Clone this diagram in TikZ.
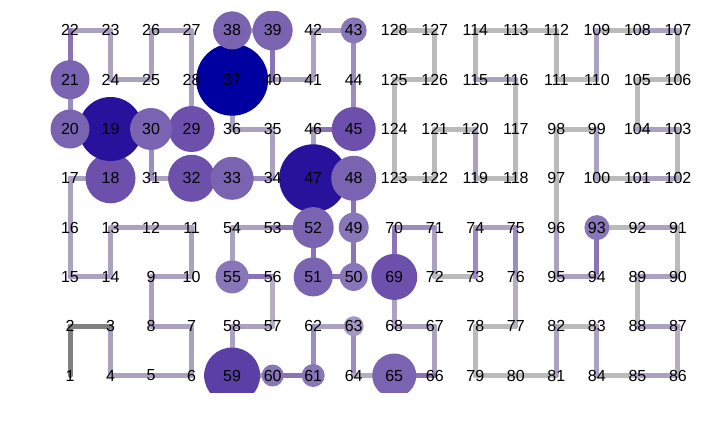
\documentclass[tikz,border=0pt]{standalone}
\usepackage{fontspec}
\setmainfont{Liberation Sans}
\usetikzlibrary{positioning}
\newcommand{\numfont}{\fontsize{16}{19}\selectfont}
\definecolor{nA}{RGB}{0,0,160}
\definecolor{nB}{RGB}{40,18,156}
\definecolor{nC}{RGB}{91,63,167}
\definecolor{nD}{RGB}{108,80,171}
\definecolor{nE}{RGB}{122,99,177}
\definecolor{nF}{RGB}{137,118,185}
\definecolor{nG}{RGB}{165,151,197}
\definecolor{eDk}{RGB}{128,128,128}
\definecolor{eLp}{RGB}{171,161,193}
\definecolor{eMd}{RGB}{156,140,192}
\definecolor{ePu}{RGB}{138,116,182}
\definecolor{eGy}{RGB}{187,187,187}
\definecolor{eLg}{RGB}{181,174,192}
\pgfdeclarelayer{links}
\pgfdeclarelayer{discs}
\pgfsetlayers{links,discs,main}
\tikzset{
  num/.style={font=\numfont, inner sep=0pt},
  disc/.style={circle, inner sep=0pt, draw=none},
  link/.style={line width=5pt, line cap=round},
}

\begin{document}
\begin{tikzpicture}[x=1pt, y=-1pt]
  \useasboundingbox (0,0) rectangle (720,432);
  % labels on the grid
  \foreach \r/\lst in {
      0/{1,4,5,6,59,60,61,64,65,66,79,80,81,84,85,86},
      1/{2,3,8,7,58,57,62,63,68,67,78,77,82,83,88,87},
      2/{15,14,9,10,55,56,51,50,69,72,73,76,95,94,89,90},
      3/{16,13,12,11,54,53,52,49,70,71,74,75,96,93,92,91},
      4/{17,18,31,32,33,34,47,48,123,122,119,118,97,100,101,102},
      5/{20,19,30,29,36,35,46,45,124,121,120,117,98,99,104,103},
      6/{21,24,25,28,37,40,41,44,125,126,115,116,111,110,105,106},
      7/{22,23,26,27,38,39,42,43,128,127,114,113,112,109,108,107}}
    \foreach \n [count=\c from 0] in \lst
      \node[num] (n\n) at ({70+40.53*\c}, {375.5-49.3*\r}) {\n};

  % links
  \begin{pgfonlayer}{links}
    \foreach \i [evaluate=\i as \j using int(\i+1)] in {3,...,71}
      \draw[link, eLp] (n\i.center) -- (n\j.center);
    \foreach \i [evaluate=\i as \j using int(\i+1)] in {72,...,127}
      \draw[link, eGy] (n\i.center) -- (n\j.center);
    \foreach \i/\col [evaluate=\i as \j using int(\i+1)] in {1/eDk, 2/eDk,
        20/eMd, 21/ePu, 30/eMd, 33/eMd, 39/ePu, 43/eMd, 44/eMd, 45/ePu,
        48/ePu, 49/ePu, 50/ePu, 51/ePu, 52/ePu, 55/ePu, 56/eLg, 60/ePu,
        61/eMd, 63/eMd, 64/eLg, 65/ePu, 69/ePu, 70/eMd, 73/eMd, 74/eLp,
        75/eMd, 76/eLg, 81/eLp, 83/eLp, 85/eLp, 86/eLg, 87/eLp, 89/eLp,
        91/eLp, 93/ePu, 94/eLp, 95/eLp, 99/eLp, 101/eLp, 103/eLp, 107/eLp,
        109/eLp, 115/eLp, 119/eLp}
      \draw[link, \col] (n\i.center) -- (n\j.center);
  \end{pgfonlayer}

  % discs
  \begin{pgfonlayer}{discs}
    \begin{scope}
      \clip (0,11.5) rectangle (720,392);
      \foreach \n/\r/\col in {18/25/nD, 19/32/nB, 20/19.5/nE, 21/19.5/nE,
          29/23/nD, 30/21/nE, 32/23.5/nD, 33/21.5/nE, 37/36/nA, 38/19/nE,
          39/20/nE, 43/13/nF, 45/22/nD, 47/34/nB, 48/22.5/nE, 49/15/nF,
          50/14/nF, 51/19.5/nE, 52/20.5/nE, 55/16.5/nF, 59/28/nC, 60/11/nF,
          61/11.5/nF, 63/10/nG, 65/22/nE, 69/23/nD, 93/12.5/nF}
        \node[disc, fill=\col, minimum size=\r*2pt] (d\n) at (n\n.center) {};
    \end{scope}
  \end{pgfonlayer}
\end{tikzpicture}
\end{document}
